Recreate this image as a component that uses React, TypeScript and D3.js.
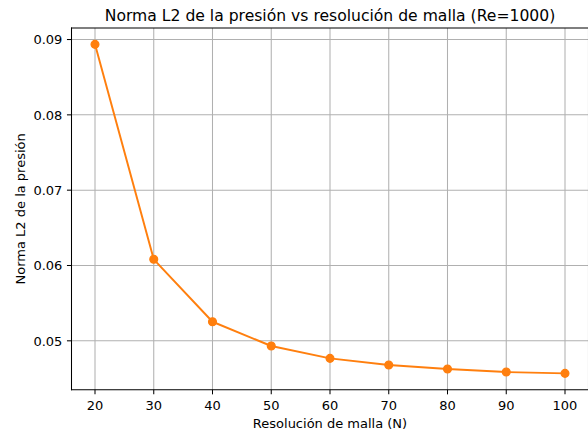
import React, { useEffect, useRef } from "react";
import * as d3 from "d3";

const resolutions = [20, 30, 40, 50, 60, 70, 80, 90, 100];
const l2Norms = [0.08936, 0.06082, 0.05253, 0.04931, 0.04767, 0.04678, 0.04625, 0.04585, 0.04568];
const xTicks = [20, 30, 40, 50, 60, 70, 80, 90, 100];
const yTicks = [0.05, 0.06, 0.07, 0.08, 0.09];
const titleText = "Norma L2 de la presión vs resolución de malla (Re=1000)";
const xLabelText = "Resolución de malla (N)";
const yLabelText = "Norma L2 de la presión";

const W = 588;
const H = 433;
const m = { left: 71.5, right: 588.5, top: 27.9, bottom: 389.8 };
const FONT = "DejaVu Sans, sans-serif";
const FS = 13;
const TFS = 15.6;
const LW = 1.04;
const TICK = 4.55;

export default function App() {
  const ref = useRef<SVGSVGElement | null>(null);
  useEffect(() => {
    document.body.style.margin = "0";
    const svg = d3.select(ref.current);
    svg.selectAll("*").remove();
    const xMin = d3.min(resolutions)!, xMax = d3.max(resolutions)!;
    const yMin = d3.min(l2Norms)!, yMax = d3.max(l2Norms)!;
    const xm = (xMax - xMin) * 0.05, ym = (yMax - yMin) * 0.05;
    const x = d3.scaleLinear().domain([xMin - xm, xMax + xm]).range([m.left, m.right]);
    const y = d3.scaleLinear().domain([yMin - ym, yMax + ym]).range([m.bottom, m.top]);

    svg.append("rect").attr("width", W).attr("height", H).attr("fill", "white");

    const g = svg.append("g");
    g.selectAll(".gx").data(xTicks).enter().append("line")
      .attr("x1", d => x(d)).attr("x2", d => x(d)).attr("y1", m.top).attr("y2", m.bottom)
      .attr("stroke", "#b0b0b0").attr("stroke-width", LW);
    g.selectAll(".gy").data(yTicks).enter().append("line")
      .attr("x1", m.left).attr("x2", m.right).attr("y1", d => y(d)).attr("y2", d => y(d))
      .attr("stroke", "#b0b0b0").attr("stroke-width", LW);

    const line = d3.line<number>().x((_, i) => x(resolutions[i])).y(d => y(d));
    g.append("path").datum(l2Norms).attr("d", line).attr("fill", "none")
      .attr("stroke", "#ff7f0e").attr("stroke-width", 1.95).attr("stroke-linejoin", "round");
    g.selectAll(".pt").data(l2Norms).enter().append("circle")
      .attr("cx", (_, i) => x(resolutions[i])).attr("cy", d => y(d)).attr("r", 3.9)
      .attr("fill", "#ff7f0e").attr("stroke", "#ff7f0e").attr("stroke-width", 1.3);

    const spine = (x1: number, y1: number, x2: number, y2: number) =>
      g.append("line").attr("x1", x1).attr("y1", y1).attr("x2", x2).attr("y2", y2)
        .attr("stroke", "black").attr("stroke-width", LW).attr("stroke-linecap", "square");
    spine(m.left, m.top, m.left, m.bottom);
    spine(m.left, m.bottom, m.right, m.bottom);
    spine(m.left, m.top, m.right, m.top);
    spine(m.right, m.top, m.right, m.bottom);

    g.selectAll(".xt").data(xTicks).enter().append("line")
      .attr("x1", d => x(d)).attr("x2", d => x(d)).attr("y1", m.bottom).attr("y2", m.bottom + TICK)
      .attr("stroke", "black").attr("stroke-width", LW);
    g.selectAll(".xl").data(xTicks).enter().append("text")
      .attr("x", d => x(d)).attr("y", 410).attr("text-anchor", "middle")
      .attr("font-family", FONT).attr("font-size", FS).attr("fill", "black").text(d => String(d));
    g.selectAll(".yt").data(yTicks).enter().append("line")
      .attr("x1", m.left - TICK).attr("x2", m.left).attr("y1", d => y(d)).attr("y2", d => y(d))
      .attr("stroke", "black").attr("stroke-width", LW);
    g.selectAll(".yl").data(yTicks).enter().append("text")
      .attr("x", m.left - 2 * TICK).attr("y", d => y(d) + 4.7).attr("text-anchor", "end")
      .attr("font-family", FONT).attr("font-size", FS).attr("fill", "black").text(d => d3.format(".2f")(d));

    svg.append("text").attr("x", (m.left + m.right) / 2).attr("y", 20.6).attr("text-anchor", "middle")
      .attr("font-family", FONT).attr("font-size", TFS).attr("fill", "black").text(titleText);
    svg.append("text").attr("x", (m.left + m.right) / 2).attr("y", 427.7).attr("text-anchor", "middle")
      .attr("font-family", FONT).attr("font-size", FS).attr("fill", "black").text(xLabelText);
    svg.append("text").attr("transform", `translate(24.8, ${(m.top + m.bottom) / 2}) rotate(-90)`)
      .attr("text-anchor", "middle")
      .attr("font-family", FONT).attr("font-size", FS).attr("fill", "black").text(yLabelText);
  }, []);
  return (
    <div style={{ position: "absolute", left: 0, top: 0 }}>
      <svg ref={ref} width={W} height={H} style={{ display: "block" }} />
    </div>
  );
}
